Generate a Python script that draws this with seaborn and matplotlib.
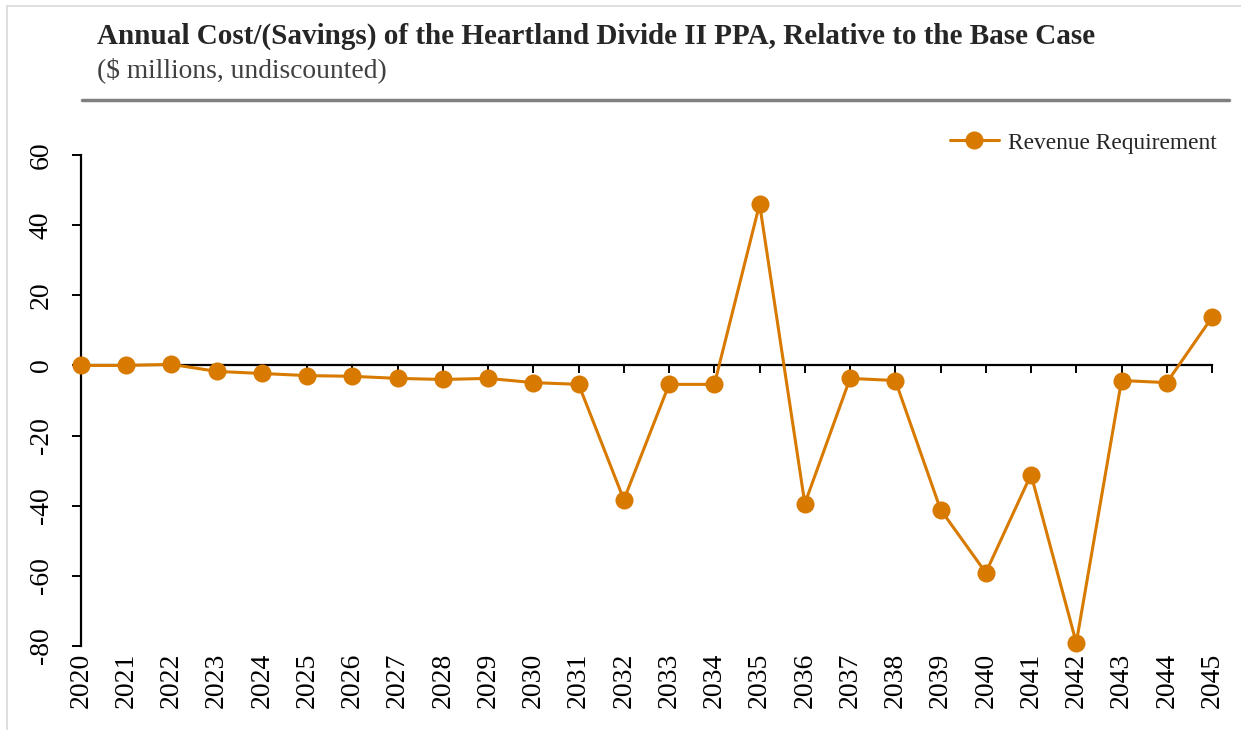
import matplotlib
matplotlib.use('Agg')
import matplotlib.pyplot as plt
import pandas as pd
import seaborn as sns
from matplotlib.lines import Line2D

# Data ($ millions, undiscounted)
years = list(range(2020, 2046))
revenue_requirement = [0.0, 0.0, 0.3, -1.7, -2.3, -2.9, -3.1, -3.7, -4.0, -3.7,
                       -4.9, -5.4, -38.3, -5.4, -5.4, 46.0, -39.4, -3.7, -4.3, -41.1,
                       -59.1, -31.1, -79.1, -4.3, -4.9, 13.7]
series_name = 'Revenue Requirement'
y_ticks = [-80, -60, -40, -20, 0, 20, 40, 60]

orange = '#D87A00'

sns.set_theme(style='ticks')
plt.rcParams['font.family'] = ['Liberation Serif', 'DejaVu Serif']
plt.rcParams['axes.unicode_minus'] = False
plt.rcParams['axes.edgecolor'] = 'black'
plt.rcParams['xtick.color'] = 'black'
plt.rcParams['ytick.color'] = 'black'

df = pd.DataFrame({'year': years, 'value': revenue_requirement})

fig = plt.figure(figsize=(12.41, 7.3), dpi=100)
ax = fig.add_axes([81 / 1241, 84 / 730, 1131 / 1241, 491 / 730])

sns.lineplot(data=df, x='year', y='value', ax=ax, color=orange, linewidth=2.2,
             marker='o', markersize=13, markeredgewidth=0, clip_on=False,
             legend=False, zorder=5)

ax.set_xlim(2020, 2045)
ax.set_ylim(-80, 60)
ax.set_xlabel('')
ax.set_ylabel('')

# spines
ax.spines['top'].set_visible(False)
ax.spines['right'].set_visible(False)
ax.spines['bottom'].set_position(('data', 0))
ax.spines['left'].set_linewidth(1.6)
ax.spines['bottom'].set_linewidth(1.6)

ax.set_xticks(years)
ax.tick_params(axis='x', direction='out', length=6, width=1.4, labelbottom=False)
ax.set_yticks(y_ticks)
ax.tick_params(axis='y', direction='out', length=6.5, width=1.4, pad=13)
for lab in ax.get_yticklabels():
    lab.set_rotation(90)
    lab.set_va('center')
    lab.set_fontsize(20)

# year labels at the bottom of the plot area
sec = ax.secondary_xaxis('bottom')
sec.spines['bottom'].set_visible(False)
sec.set_xticks(years)
sec.set_xticklabels([str(y) for y in years], rotation=90, fontsize=20)
sec.tick_params(axis='x', length=0, pad=5)

# legend
handle = Line2D([], [], color=orange, linewidth=2.2, marker='o', markersize=13,
                markeredgewidth=0)
ax.legend([handle], [series_name], loc='center right',
          bbox_to_anchor=(1238 / 1241, 1 - 143 / 730), bbox_transform=fig.transFigure,
          frameon=False, fontsize=16.8, handlelength=2.1, handletextpad=0.4)

# titles
fig.text(97 / 1241, 1 - 36 / 730, 'Annual Cost/(Savings) of the Heartland Divide II PPA, Relative to the Base Case',
         fontsize=21, fontweight='bold', color='#262626', va='center', ha='left')
fig.text(97 / 1241, 1 - 70 / 730, '($ millions, undiscounted)',
         fontsize=19.8, color='#404040', va='center', ha='left')

# header rule and light frame
fig.add_artist(Line2D([82 / 1241, 1229 / 1241], [1 - 100 / 730, 1 - 100 / 730],
                      transform=fig.transFigure, color='#808080', linewidth=2.5))
fig.add_artist(Line2D([7 / 1241, 7 / 1241], [0, 1 - 6 / 730],
                      transform=fig.transFigure, color='#D9D9D9', linewidth=1.2))
fig.add_artist(Line2D([7 / 1241, 1], [1 - 6 / 730, 1 - 6 / 730],
                      transform=fig.transFigure, color='#D9D9D9', linewidth=1.2))

fig.savefig('out.png', dpi=100)
